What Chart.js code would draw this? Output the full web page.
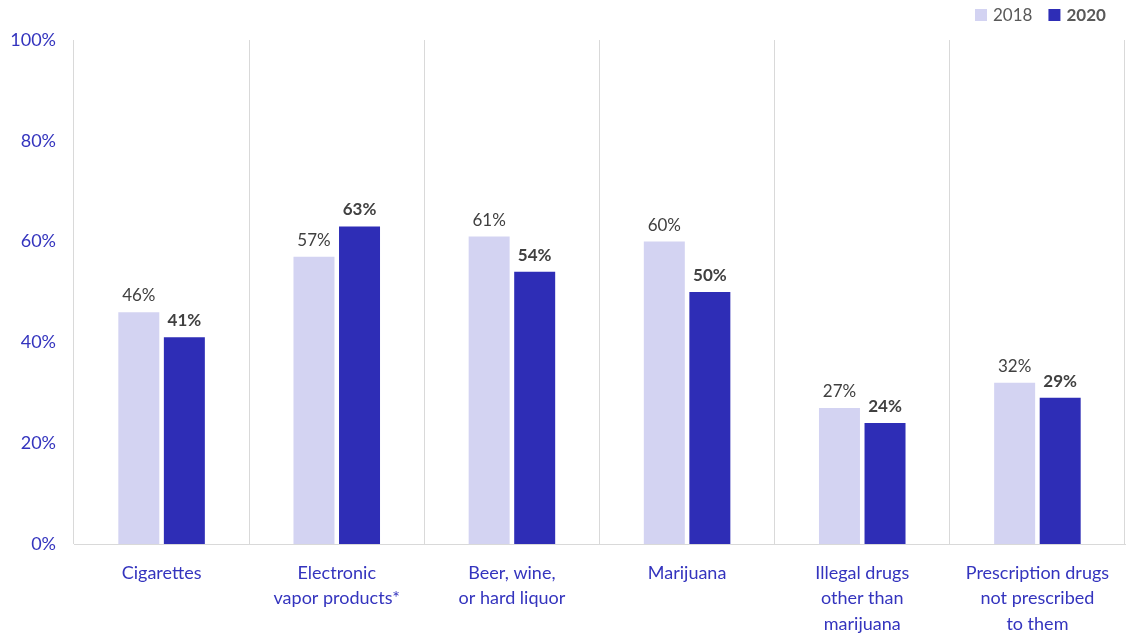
<!DOCTYPE html>
<html>
<head>
<meta charset="utf-8">
<script src="https://cdn.jsdelivr.net/npm/chart.js@4"></script>
<style>
  html, body { margin: 0; padding: 0; background: #fff; }
  #wrap { position: relative; width: 1128px; height: 633px; }
</style>
</head>
<body>
<div id="wrap"><canvas id="chart"></canvas></div>
<script>
// data
var categories = [
    ['Cigarettes'],
    ['Electronic', 'vapor products*'],
    ['Beer, wine,', 'or hard liquor'],
    ['Marijuana'],
    ['Illegal drugs', 'other than', 'marijuana'],
    ['Prescription drugs', 'not prescribed', 'to them']
];
var seriesNames = ['2018', '2020'];
var values2018 = [46, 57, 61, 60, 27, 32];
var values2020 = [41, 63, 54, 50, 24, 29];
var yTicks = [0, 20, 40, 60, 80, 100];

var FONT = 'Lato, "Open Sans", sans-serif';
var colors = ['#D3D3F2', '#2E2DB6'];
var blue = '#3434BE';

// value labels above the bars, 2020 in bold
var barLabels = {
    id: 'barLabels',
    afterDatasetsDraw: function(chart) {
        var ctx = chart.ctx;
        ctx.save();
        ctx.textAlign = 'center';
        ctx.textBaseline = 'bottom';
        chart.data.datasets.forEach(function(ds, i) {
            var meta = chart.getDatasetMeta(i);
            ctx.font = (i == 1 ? 'bold ' : '') + '17px ' + FONT;
            ctx.fillStyle = '#404040';
            meta.data.forEach(function(bar, j) {
                ctx.fillText(ds.data[j] + '%', bar.x, bar.y - 8);
            });
        });
        ctx.restore();
    }
};

// legend in the top right corner, second item bold
var topLegend = {
    id: 'topLegend',
    afterDraw: function(chart) {
        var ctx = chart.ctx;
        var x = 975, y = 15;
        ctx.save();
        ctx.textBaseline = 'middle';
        chart.data.datasets.forEach(function(ds, i) {
            ctx.fillStyle = ds.backgroundColor;
            ctx.fillRect(x, y - 6, 12, 12);
            ctx.font = (i == 1 ? 'bold ' : '') + '17px ' + FONT;
            ctx.fillStyle = '#595959';
            ctx.fillText(ds.label, x + 18, y + 1);
            x += 18 + ctx.measureText(ds.label).width + 16;
        });
        ctx.restore();
    }
};

new Chart(document.getElementById('chart'), {
    type: 'bar',
    data: {
        labels: categories,
        datasets: [
            { label: seriesNames[0], data: values2018, backgroundColor: colors[0] },
            { label: seriesNames[1], data: values2020, backgroundColor: colors[1] }
        ]
    },
    options: {
        responsive: true,
        maintainAspectRatio: false,
        animation: false,
        layout: { padding: { top: 40, right: 3, left: 0, bottom: 0 } },
        datasets: { bar: { categoryPercentage: 0.52, barPercentage: 0.9 } },
        plugins: {
            legend: { display: false },
            tooltip: { enabled: false }
        },
        scales: {
            x: {
                grid: { offset: true, color: '#D9D9D9', drawTicks: false },
                border: { color: '#D9D9D9' },
                ticks: {
                    color: blue,
                    font: { family: FONT, size: 18, lineHeight: 1.42 },
                    padding: 16,
                    maxRotation: 0,
                    autoSkip: false
                },
                afterFit: function(scale) { scale.height = 89; }
            },
            y: {
                min: 0,
                max: 100,
                afterBuildTicks: function(scale) {
                    scale.ticks = yTicks.map(function(v) { return { value: v }; });
                },
                grid: { display: false, drawTicks: false },
                border: { display: false },
                ticks: {
                    color: blue,
                    font: { family: FONT, size: 18 },
                    padding: 18,
                    callback: function(v) { return v + '%'; }
                },
                afterFit: function(scale) { scale.width = 74; }
            }
        }
    },
    plugins: [barLabels, topLegend]
});
</script>
</body>
</html>
